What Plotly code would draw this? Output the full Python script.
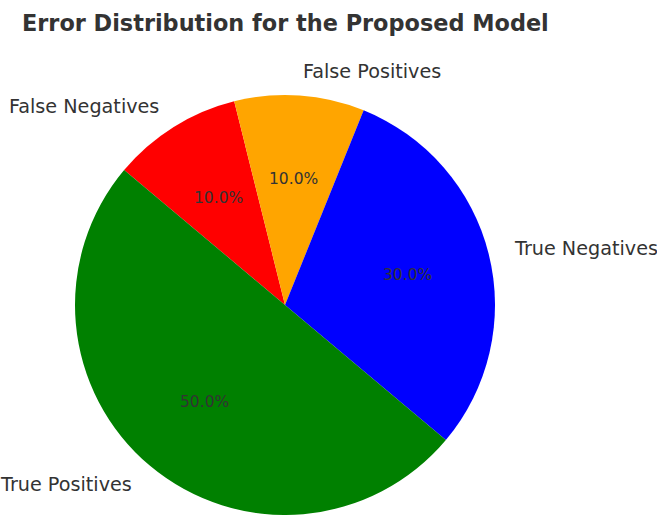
import math
import plotly.graph_objects as go

# ---- data ----
labels = ["True Positives", "True Negatives", "False Positives", "False Negatives"]
sizes = [50, 30, 10, 10]
colors = ["#008000", "#0000ff", "#ffa500", "#ff0000"]
title_text = "Error Distribution for the Proposed Model"
start_angle = 140  # degrees, counter-clockwise from 3 o'clock

# ---- geometry (pixels) ----
W, H = 657, 515
cx, cy, r = 285, 305, 210

fig = go.Figure()
# plotly draws clockwise; reverse the order so the slices sit as in the reference
rev = list(range(len(labels)))[::-1]
fig.add_trace(go.Pie(
    labels=[labels[i] for i in rev],
    values=[sizes[i] for i in rev],
    marker=dict(colors=[colors[i] for i in rev], line=dict(width=0)),
    sort=False,
    direction="clockwise",
    rotation=90 - start_angle,
    textinfo="none",
    hoverinfo="label+percent",
    showlegend=False,
    domain=dict(x=[(cx - r) / W, (cx + r) / W], y=[1 - (cy + r) / H, 1 - (cy - r) / H]),
))

annotations = []
total = sum(sizes)
angle = start_angle
for lab, v in zip(labels, sizes):
    span = 360 * v / total
    mid = math.radians(angle + span / 2)
    angle += span
    # outside label
    lx = cx + 1.115 * r * math.cos(mid)
    ly = cy - 1.115 * r * math.sin(mid)
    annotations.append(dict(
        x=lx / W, y=1 - ly / H, xref="paper", yref="paper",
        text=lab, showarrow=False,
        xanchor="left" if math.cos(mid) > 0 else "right", yanchor="middle",
        font=dict(family="DejaVu Sans", size=19.2, color="#333333"),
    ))
    # percentage inside
    px = cx + 0.6 * r * math.cos(mid)
    py = cy - 0.6 * r * math.sin(mid)
    annotations.append(dict(
        x=px / W, y=1 - py / H, xref="paper", yref="paper",
        text=f"{100 * v / total:.1f}%", showarrow=False,
        xanchor="center", yanchor="middle",
        font=dict(family="DejaVu Sans", size=15.5, color="#333333"),
    ))

annotations.append(dict(
    x=cx / W, y=1 - 23 / H, xref="paper", yref="paper",
    text=f"<b>{title_text}</b>", showarrow=False,
    xanchor="center", yanchor="middle",
    font=dict(family="DejaVu Sans", size=22.4, color="#333333"),
))

fig.update_layout(
    width=W, height=H,
    margin=dict(l=0, r=0, t=0, b=0),
    paper_bgcolor="white", plot_bgcolor="white",
    annotations=annotations,
)

fig.write_html("out.html")
